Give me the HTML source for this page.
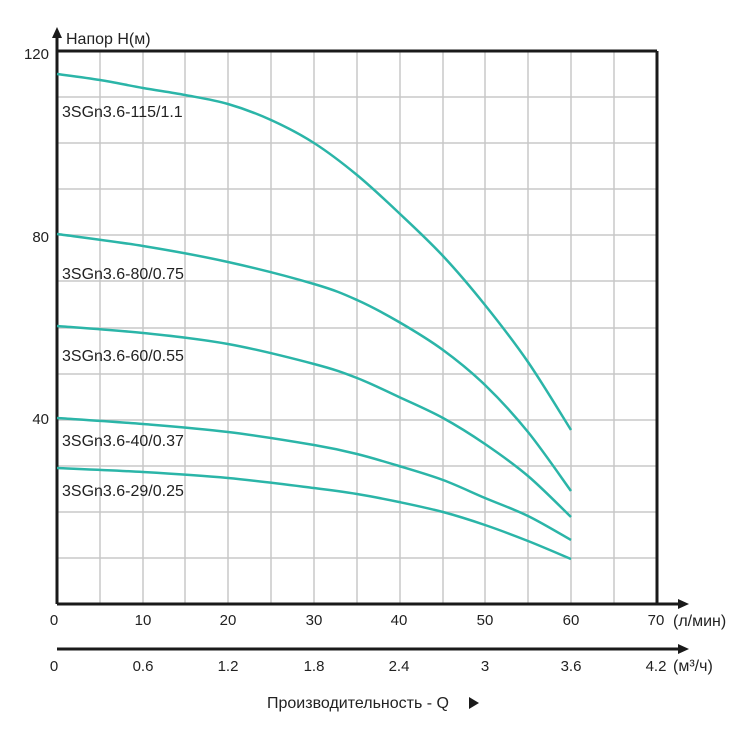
<!DOCTYPE html>
<html><head><meta charset="utf-8"><style>
html,body{margin:0;padding:0;background:#fff;}
text{font-family:"Liberation Sans",sans-serif;fill:#222;}
</style></head><body>
<svg id="s" width="755" height="730" viewBox="0 0 755 730" xmlns="http://www.w3.org/2000/svg">
<g stroke="#c8c8c8" stroke-width="1.5">
<line x1="100" y1="51" x2="100" y2="604"/><line x1="143" y1="51" x2="143" y2="604"/><line x1="185" y1="51" x2="185" y2="604"/><line x1="228" y1="51" x2="228" y2="604"/><line x1="271" y1="51" x2="271" y2="604"/><line x1="314" y1="51" x2="314" y2="604"/><line x1="357" y1="51" x2="357" y2="604"/><line x1="400" y1="51" x2="400" y2="604"/><line x1="443" y1="51" x2="443" y2="604"/><line x1="485" y1="51" x2="485" y2="604"/><line x1="528" y1="51" x2="528" y2="604"/><line x1="571" y1="51" x2="571" y2="604"/><line x1="614" y1="51" x2="614" y2="604"/>
<line x1="57" y1="97" x2="657" y2="97"/><line x1="57" y1="143" x2="657" y2="143"/><line x1="57" y1="189" x2="657" y2="189"/><line x1="57" y1="235" x2="657" y2="235"/><line x1="57" y1="281" x2="657" y2="281"/><line x1="57" y1="328" x2="657" y2="328"/><line x1="57" y1="374" x2="657" y2="374"/><line x1="57" y1="420" x2="657" y2="420"/><line x1="57" y1="466" x2="657" y2="466"/><line x1="57" y1="512" x2="657" y2="512"/><line x1="57" y1="558" x2="657" y2="558"/>
</g>
<g stroke="#1a1a1a" stroke-width="3" fill="none">
<line x1="57" y1="51" x2="657" y2="51"/><line x1="657" y1="51" x2="657" y2="604"/>
<line x1="57" y1="604" x2="57" y2="36"/>
<line x1="57" y1="604" x2="680" y2="604"/>
<line x1="57" y1="649" x2="680" y2="649"/>
</g>
<polygon points="57,27 52,38 62,38" fill="#1a1a1a"/>
<polygon points="689,604 678,599 678,609" fill="#1a1a1a"/>
<polygon points="689,649 678,644 678,654" fill="#1a1a1a"/>
<g id="curves" stroke="#2bb5a8" stroke-width="2.5" fill="none" stroke-linejoin="round"></g>
<g font-size="16">
<text x="62" y="117">3SGn3.6-115/1.1</text>
<text x="62" y="279">3SGn3.6-80/0.75</text>
<text x="62" y="361">3SGn3.6-60/0.55</text>
<text x="62" y="446">3SGn3.6-40/0.37</text>
<text x="62" y="496">3SGn3.6-29/0.25</text>
<text x="66" y="44" font-size="16">Напор H(м)</text>
<text x="49" y="59" text-anchor="end" font-size="15">120</text>
<text x="49" y="242" text-anchor="end" font-size="15">80</text>
<text x="49" y="424" text-anchor="end" font-size="15">40</text>
</g>
<g font-size="15" text-anchor="middle">
<text x="54" y="625">0</text><text x="143" y="625">10</text><text x="228" y="625">20</text><text x="314" y="625">30</text><text x="399" y="625">40</text><text x="485" y="625">50</text><text x="571" y="625">60</text><text x="656" y="625">70</text>
<text x="54" y="671">0</text><text x="143" y="671">0.6</text><text x="228" y="671">1.2</text><text x="314" y="671">1.8</text><text x="399" y="671">2.4</text><text x="485" y="671">3</text><text x="571" y="671">3.6</text><text x="656" y="671">4.2</text>
</g>
<text x="673" y="626" font-size="16">(л/мин)</text>
<text x="673" y="671" font-size="16">(м³/ч)</text>
<text x="267" y="708" font-size="16">Производительность - Q</text>
<polygon points="469,697 469,709 479,703" fill="#1a1a1a"/>
</svg>
<script>
var data=[
[[57,74],[100,80],[143,88],[185,95],[228,104],[271,120],[314,143],[357,175],[399,213],[443,256],[485,305],[528,362],[571,430]],
[[57,234],[143,246],[228,262],[314,284],[357,300],[399,322],[443,350],[485,385],[528,432],[571,491]],
[[57,326],[143,333],[228,344],[314,364],[357,378],[399,397],[443,418],[485,444],[528,476],[571,517]],
[[57,418],[143,424],[228,432],[314,445],[357,454],[399,466],[443,480],[485,498],[528,516],[571,540]],
[[57,468],[143,472],[228,478],[314,488],[357,494],[399,502],[443,512],[485,525],[528,541],[571,559]]];
var g=document.getElementById('curves');
data.forEach(function(p){
 var d='M'+p[0][0]+','+p[0][1];
 for(var i=0;i<p.length-1;i++){
  var p0=p[Math.max(0,i-1)],p1=p[i],p2=p[i+1],p3=p[Math.min(p.length-1,i+2)];
  var c1x=p1[0]+(p2[0]-p0[0])/6,c1y=p1[1]+(p2[1]-p0[1])/6;
  var c2x=p2[0]-(p3[0]-p1[0])/6,c2y=p2[1]-(p3[1]-p1[1])/6;
  d+=' C'+c1x+','+c1y+' '+c2x+','+c2y+' '+p2[0]+','+p2[1];
 }
 var e=document.createElementNS('http://www.w3.org/2000/svg','path');
 e.setAttribute('d',d);g.appendChild(e);
});
</script>
</body></html>
